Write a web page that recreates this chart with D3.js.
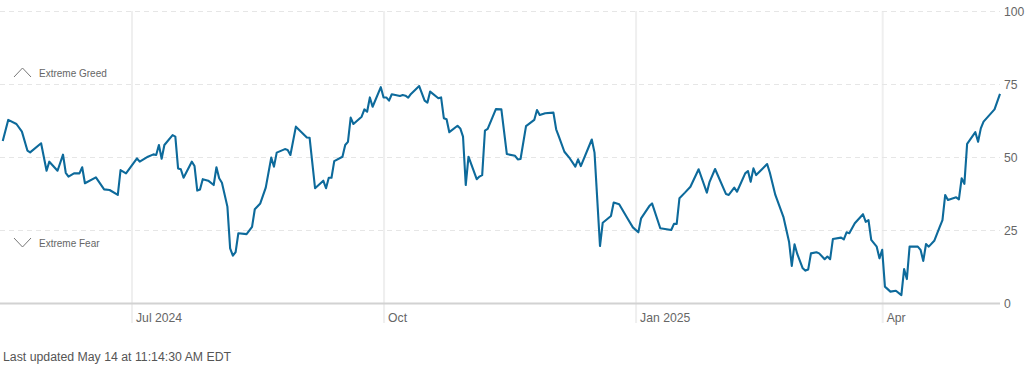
<!DOCTYPE html>
<html>
<head>
<meta charset="utf-8">
<script src="https://cdn.jsdelivr.net/npm/d3@7"></script>
<style>
  html, body { margin: 0; padding: 0; background: #fff; }
  svg { display: block; font-family: "Liberation Sans", Arial, Helvetica, sans-serif; }
</style>
</head>
<body>
<svg id="chart" width="1030" height="374"></svg>
<script>
// ---- data ----
const dates = [
"2024-05-15","2024-05-17","2024-05-20","2024-05-22","2024-05-24","2024-05-25","2024-05-29","2024-05-31","2024-06-01","2024-06-04",
"2024-06-06","2024-06-07","2024-06-08","2024-06-10","2024-06-12","2024-06-13","2024-06-14","2024-06-18","2024-06-21","2024-06-23",
"2024-06-26","2024-06-27","2024-06-29","2024-07-03","2024-07-04","2024-07-07","2024-07-09","2024-07-10","2024-07-11","2024-07-12",
"2024-07-13","2024-07-16","2024-07-17","2024-07-18","2024-07-19","2024-07-20","2024-07-23","2024-07-24","2024-07-25","2024-07-26",
"2024-07-27","2024-07-29","2024-07-31","2024-08-01","2024-08-02","2024-08-03","2024-08-05","2024-08-06","2024-08-07","2024-08-08",
"2024-08-09","2024-08-12","2024-08-14","2024-08-15","2024-08-17","2024-08-19","2024-08-21","2024-08-22","2024-08-23","2024-08-26",
"2024-08-27","2024-08-28","2024-08-30","2024-09-03","2024-09-04","2024-09-06","2024-09-09","2024-09-10","2024-09-11","2024-09-12",
"2024-09-13","2024-09-16","2024-09-17","2024-09-18","2024-09-19","2024-09-20","2024-09-23","2024-09-24","2024-09-25","2024-09-26",
"2024-09-27","2024-09-30","2024-10-01","2024-10-02","2024-10-03","2024-10-04","2024-10-07","2024-10-08","2024-10-09","2024-10-10",
"2024-10-11","2024-10-14","2024-10-16","2024-10-17","2024-10-18","2024-10-21","2024-10-22","2024-10-23","2024-10-24","2024-10-25",
"2024-10-28","2024-10-29","2024-10-30","2024-10-31","2024-11-01","2024-11-04","2024-11-05","2024-11-06","2024-11-07","2024-11-08",
"2024-11-11","2024-11-13","2024-11-15","2024-11-18","2024-11-19","2024-11-20","2024-11-22","2024-11-25","2024-11-26","2024-11-27",
"2024-11-29","2024-12-02","2024-12-03","2024-12-04","2024-12-06","2024-12-08","2024-12-10","2024-12-11","2024-12-12","2024-12-16",
"2024-12-17","2024-12-19","2024-12-20","2024-12-23","2024-12-24","2024-12-26","2024-12-29","2024-12-31","2025-01-02","2025-01-03",
"2025-01-06","2025-01-07","2025-01-10","2025-01-14","2025-01-15","2025-01-16","2025-01-17","2025-01-19","2025-01-21","2025-01-24",
"2025-01-27","2025-01-28","2025-01-30","2025-02-03","2025-02-04","2025-02-06","2025-02-07","2025-02-10","2025-02-11","2025-02-12",
"2025-02-13","2025-02-14","2025-02-18","2025-02-19","2025-02-21","2025-02-24","2025-02-26","2025-02-27","2025-02-28","2025-03-01",
"2025-03-03","2025-03-04","2025-03-05","2025-03-06","2025-03-08","2025-03-09","2025-03-11","2025-03-12","2025-03-13","2025-03-14",
"2025-03-17","2025-03-18","2025-03-19","2025-03-20","2025-03-22","2025-03-25","2025-03-26","2025-03-27","2025-03-28","2025-03-30",
"2025-03-31","2025-04-01","2025-04-02","2025-04-04","2025-04-06","2025-04-08","2025-04-09","2025-04-10","2025-04-11","2025-04-14",
"2025-04-15","2025-04-16","2025-04-17","2025-04-18","2025-04-20","2025-04-22","2025-04-23","2025-04-24","2025-04-25","2025-04-28",
"2025-04-29","2025-04-30","2025-05-01","2025-05-02","2025-05-05","2025-05-06","2025-05-07","2025-05-08","2025-05-12","2025-05-14"
];
const values = [
55.5, 62.7, 61.3, 58.7, 52.2, 51.6, 54.7, 45.3, 48.4, 45.3,
50.8, 44.6, 43.3, 44.4, 44.4, 46.5, 41, 43, 38.9, 38.7,
37, 45.5, 44.4, 49.5, 48.4, 50.1, 50.9, 50.7, 54.1, 49.4,
54.1, 57.5, 57, 46.1, 45.8, 42.9, 48.4, 46.9, 38.5, 38.9,
42.4, 41.9, 40.4, 46.5, 42.7, 41.2, 33, 18.7, 16.2, 17.4,
23.9, 23.6, 26.1, 32.1, 34.1, 39.5, 49.8, 46.7, 51.5, 52.7,
52.4, 50.7, 60.4, 56.7, 56.6, 39.3, 41.9, 39.3, 42.9, 42.9,
48.6, 50.1, 54.1, 55.2, 63.5, 61.3, 63.8, 66.3, 65.5, 70.4,
67.2, 73.9, 70.4, 70.4, 69.3, 71.5, 70.9, 71.2, 71, 70.3,
71.6, 74.3, 69.3, 68.6, 72.4, 70.1, 70.4, 63.3, 62.9, 58.5,
60.7, 59.8, 57, 40.4, 50.1, 42.4, 43.3, 43.8, 59, 59.6,
66.4, 66.3, 51, 50.4, 49.2, 49.3, 60.6, 62.7, 66.1, 64.4,
65, 65.2, 59.5, 57, 51.8, 49.5, 46.7, 49.2, 46.9, 56,
51.5, 19.5, 27.5, 29.8, 34.4, 33.8, 29, 25.9, 24.2, 29,
33.2, 34.1, 25.6, 25, 27.1, 27.1, 35.9, 37.8, 39.8, 45.8,
37.8, 41.5, 45.9, 37.3, 37, 39.5, 38.1, 44.4, 45.2, 41.5,
46.1, 43.8, 47.6, 44.6, 37, 29.3, 21, 12.7, 20.1, 16.8,
11.9, 11.1, 11.5, 17, 17.4, 17, 15, 15.9, 15, 21.9,
22.4, 21.8, 24.2, 23.9, 27.3, 30.4, 27.8, 28.4, 21.6, 19.3,
15.3, 18.2, 5.6, 3.9, 4.2, 2.7, 11.6, 8.2, 19.3, 19.3,
18.2, 14.4, 20.2, 19.3, 21.3, 26.1, 28.4, 37, 35.3, 36.2,
35.5, 42.7, 40.8, 54.5, 58.5, 55.2, 59.8, 62.1, 66.3, 71.6
];
const xDomain = ["2024-05-14", "2025-05-14"];
const xTickDates = ["2024-07-01", "2024-10-01", "2025-01-01", "2025-04-01"];
const xTickLabels = ["Jul 2024", "Oct", "Jan 2025", "Apr"];
const yTicks = [0, 25, 50, 75, 100];
const zoneLabels = ["Extreme Greed", "Extreme Fear"];
const footerText = "Last updated May 14 at 11:14:30 AM EDT";

// ---- chart ----
(function () {
const parse = d3.utcParse("%Y-%m-%d");
const data = dates.map((d, i) => ({ date: parse(d), value: values[i] }));

const svg = d3.select("#chart");
const pLeft = 0, pRight = 1000, pTop = 11, pBottom = 303;

const x = d3.scaleUtc().domain(xDomain.map(parse)).range([pLeft, pRight]);
const y = d3.scaleLinear().domain([0, 100]).range([pBottom, pTop]);

// vertical month gridlines + labels
const xAxis = d3.axisBottom(x)
  .tickValues(xTickDates.map(parse))
  .tickFormat((d, i) => xTickLabels[i])
  .tickSizeOuter(0);
const gx = svg.append("g").attr("transform", `translate(0,${pBottom})`).call(xAxis);
gx.select(".domain").remove();
gx.selectAll(".tick line").attr("stroke", "#efefef").attr("stroke-width", 2)
  .attr("y1", 20).attr("y2", -(pBottom - pTop));
gx.selectAll(".tick text")
  .attr("text-anchor", "start").attr("x", 4).attr("y", 10)
  .attr("font-size", 12.2).attr("fill", "#666")
  .attr("font-family", "'Liberation Sans', Arial, sans-serif");

// horizontal gridlines + right labels
const yAxis = d3.axisRight(y).tickValues(yTicks).tickSize(pRight - pLeft).tickFormat(d3.format("d"));
const gy = svg.append("g").attr("transform", `translate(${pLeft},0)`).call(yAxis);
gy.select(".domain").remove();
gy.selectAll(".tick line")
  .attr("stroke", d => d === 0 ? "#d2d2d2" : "#e6e6e6")
  .attr("stroke-width", d => d === 0 ? 2 : 1)
  .attr("stroke-dasharray", d => d === 0 ? null : "5,4");
gy.selectAll(".tick text")
  .attr("x", pRight - pLeft + 4).attr("dy", "0.34em")
  .attr("font-size", 12.2).attr("fill", "#666")
  .attr("font-family", "'Liberation Sans', Arial, sans-serif");

// zone annotations
const greedY = y(75) - 11, fearY = y(25) + 13;
svg.append("path").attr("d", `M14,${greedY + 4}L22.5,${greedY - 5}L31,${greedY + 4}`)
  .attr("fill", "none").attr("stroke", "#777").attr("stroke-width", 1);
svg.append("text").attr("x", 39).attr("y", greedY).attr("dy", "0.35em")
  .attr("font-size", 10).attr("fill", "#666").text(zoneLabels[0]);
svg.append("path").attr("d", `M14,${fearY - 5}L22.5,${fearY + 4}L31,${fearY - 5}`)
  .attr("fill", "none").attr("stroke", "#777").attr("stroke-width", 1);
svg.append("text").attr("x", 39).attr("y", fearY).attr("dy", "0.35em")
  .attr("font-size", 10).attr("fill", "#666").text(zoneLabels[1]);

// line
const line = d3.line().x(d => x(d.date)).y(d => y(d.value));
svg.append("path").datum(data)
  .attr("fill", "none").attr("stroke", "#0d6a9b").attr("stroke-width", 2.1)
  .attr("stroke-linejoin", "round").attr("d", line);

// footer
svg.append("text").attr("x", 3).attr("y", 357).attr("dy", "0.35em")
  .attr("font-size", 12.3).attr("fill", "#555").text(footerText);
})();
</script>
</body>
</html>
